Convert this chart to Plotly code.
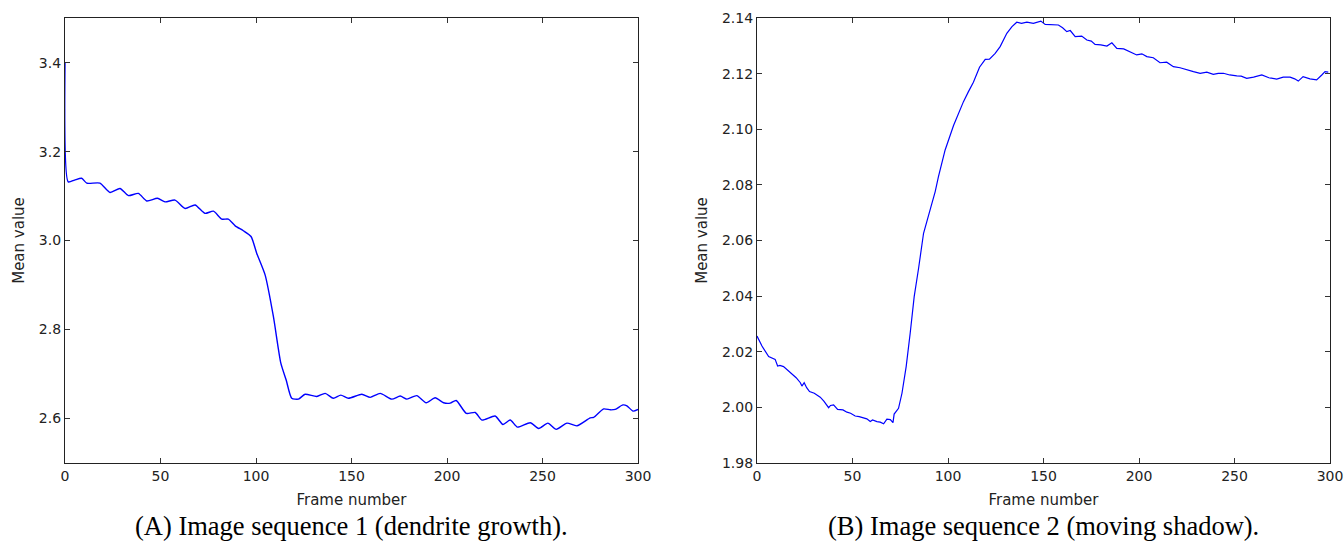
import plotly.graph_objects as go

# ---- Series A: image sequence 1 (dendrite growth) ----
frames_a = [0, 1.7, 5, 8.7, 11.4, 18.3, 23.6, 28.8, 33.2, 38.4, 42.8, 48.4, 52.4, 57.6,
            62.9, 68.1, 73.3, 77.7, 82.1, 85.5, 89.1, 93.4, 97.4, 100.4, 104.8, 109.1,
            113, 115.8, 118.7, 122.2, 125.7, 131.8, 136.2, 140.5, 144.4, 148.4, 155.4,
            159.8, 165, 171.1, 175.5, 179, 184.2, 189.1, 193.8, 198.2, 201.7, 204.8,
            210.1, 214.8, 218.3, 225.2, 229.3, 233.1, 236.9, 243.6, 248, 252.8, 257.2,
            262.8, 268, 275, 276.8, 282, 285.5, 288.1, 292.1, 294.2, 297.4, 300]
values_a = [3.40, 3.132, 3.136, 3.140, 3.129, 3.129, 3.108, 3.117, 3.101, 3.106, 3.089,
            3.095, 3.087, 3.091, 3.072, 3.080, 3.061, 3.066, 3.048, 3.048, 3.033, 3.022,
            3.009, 2.971, 2.922, 2.829, 2.724, 2.686, 2.645, 2.643, 2.654, 2.649, 2.656,
            2.645, 2.652, 2.645, 2.654, 2.647, 2.656, 2.643, 2.650, 2.643, 2.651, 2.635,
            2.646, 2.635, 2.634, 2.640, 2.611, 2.613, 2.596, 2.605, 2.586, 2.596, 2.580,
            2.590, 2.577, 2.589, 2.575, 2.589, 2.583, 2.601, 2.602, 2.621, 2.619, 2.620,
            2.630, 2.628, 2.616, 2.620]

# ---- Series B: image sequence 2 (moving shadow) ----
frames_b = [0, 2.6, 6.1, 8.7, 9.5, 10.8, 12, 13.9, 16, 18.3, 20.5, 22.7, 23.5, 24.7, 26,
            27.5, 30, 33.1, 35, 37.5, 38.5, 40.1, 42.2, 45, 47.1, 49, 51.4, 53.5, 55.8,
            57.5, 59.3, 60.5, 62.8, 64.5, 66.3, 68, 69.8, 71.2, 71.8, 74.1, 75.9,
            78.1, 80.2, 82.3, 84.6, 87.2, 91.1, 93.3, 95, 98.5, 102.9, 105.5, 108.1,
            110.7, 113.3, 116.5, 119.5, 121.7, 124.7, 127.3, 130.8, 133.5, 136, 138.5,
            141.3, 144.7, 148.6, 150.9, 154, 157.8, 160, 162.2, 164, 166.6, 170, 172.7,
            175, 177, 180, 183.2, 185.8, 188.4, 192, 195.3, 198.8, 201.5, 204.1, 207.5,
            211, 214.5, 218, 221.5, 225, 228.5, 232, 235.5, 238.9, 241.5, 244.2, 247.5,
            251.2, 253.5, 256.4, 260, 264.3, 268, 272.1, 275.5, 279.1, 281.5, 283.4,
            285.9, 289.5, 293, 295.7, 297.4, 299.1]
values_b = [2.0256, 2.0220, 2.0182, 2.0176, 2.0172, 2.0148, 2.0150, 2.0146, 2.0134,
            2.0120, 2.0106, 2.0088, 2.0076, 2.0088, 2.0070, 2.0056, 2.0050, 2.0036,
            2.0022, 1.9998, 2.0006, 2.0008, 1.9992, 1.9990, 1.9982, 1.9978, 1.9968,
            1.9966, 1.9960, 1.9958, 1.9948, 1.9954, 1.9948, 1.9946, 1.9940, 1.9957,
            1.9955, 1.9944, 1.9975, 1.9996, 2.0050, 2.0146, 2.0266, 2.0398, 2.0500,
            2.0626, 2.0722, 2.0776, 2.0830, 2.0926, 2.1014, 2.1058, 2.1100, 2.1136,
            2.1170, 2.1224, 2.1252, 2.1253, 2.1274, 2.1298, 2.1346, 2.1370, 2.1386,
            2.1382, 2.1386, 2.1382, 2.1390, 2.1378, 2.1378, 2.1376, 2.1366, 2.1352,
            2.1356, 2.1334, 2.1336, 2.1322, 2.1318, 2.1306, 2.1304, 2.1300, 2.1312,
            2.1292, 2.1290, 2.1280, 2.1268, 2.1272, 2.1262, 2.1258, 2.1240, 2.1242,
            2.1226, 2.1222, 2.1214, 2.1208, 2.1202, 2.1206, 2.1198, 2.1202, 2.1202,
            2.1196, 2.1193, 2.1192, 2.1184, 2.1188, 2.1196, 2.1186, 2.1181, 2.1188,
            2.1188, 2.1182, 2.1174, 2.1190, 2.1182, 2.1178, 2.1196, 2.1208, 2.1206]

x_ticks = [0, 50, 100, 150, 200, 250, 300]
y_ticks_a = [2.6, 2.8, 3.0, 3.2, 3.4]
y_ticks_b = [1.98, 2.00, 2.02, 2.04, 2.06, 2.08, 2.10, 2.12, 2.14]

captions = ["(A) Image sequence 1 (dendrite growth).",
            "(B) Image sequence 2 (moving shadow)."]

W, H = 1344, 543
dom_a = [65 / W, 638 / W]
dom_b = [757 / W, 1330 / W]
dom_y = [1 - 462.7 / H, 1 - 18.3 / H]

fig = go.Figure()
fig.add_trace(go.Scatter(x=frames_a, y=values_a, mode="lines",
                         line=dict(color="#0000ff", width=1.4, shape="spline", smoothing=0.6),
                         xaxis="x", yaxis="y", showlegend=False))
fig.add_trace(go.Scatter(x=frames_b, y=values_b, mode="lines",
                         line=dict(color="#0000ff", width=1.2),
                         xaxis="x2", yaxis="y2", showlegend=False))

tick_font = dict(family="DejaVu Sans", size=14, color="#222222")
title_font = dict(family="DejaVu Sans", size=15, color="#222222")

common_x = dict(range=[0, 300], tickvals=x_ticks, ticks="inside", ticklen=5,
                tickcolor="#333333", showline=True, linecolor="#222222", linewidth=1.3,
                mirror="ticks", showgrid=False, zeroline=False, tickfont=tick_font,
                automargin=False,
                title=dict(text="Frame number", font=title_font, standoff=11))
common_y = dict(ticks="inside", ticklen=5, tickcolor="#333333", showline=True,
                linecolor="#222222", linewidth=1.3, mirror="ticks", showgrid=False,
                zeroline=False, tickfont=tick_font, automargin=False,
                title=dict(text="Mean value", font=title_font, standoff=10))

fig.update_layout(
    width=W, height=H,
    margin=dict(l=0, r=0, t=0, b=0, pad=0),
    paper_bgcolor="white", plot_bgcolor="white",
    xaxis=dict(domain=dom_a, anchor="y", **common_x),
    yaxis=dict(domain=dom_y, anchor="x", range=[2.5, 3.5], tickvals=y_ticks_a,
               tickformat=".1f", **common_y),
    xaxis2=dict(domain=dom_b, anchor="y2", **common_x),
    yaxis2=dict(domain=dom_y, anchor="x2", range=[1.98, 2.14], tickvals=y_ticks_b,
                tickformat=".2f", **common_y),
    annotations=[
        dict(text=captions[0], xref="paper", yref="paper",
             x=(dom_a[0] + dom_a[1]) / 2, y=1 - 526 / H, xanchor="center", yanchor="middle",
             showarrow=False, font=dict(family="Liberation Serif", size=26.5, color="black")),
        dict(text=captions[1], xref="paper", yref="paper",
             x=(dom_b[0] + dom_b[1]) / 2, y=1 - 526 / H, xanchor="center", yanchor="middle",
             showarrow=False, font=dict(family="Liberation Serif", size=26.5, color="black")),
    ],
)

fig.write_html("out.html")
